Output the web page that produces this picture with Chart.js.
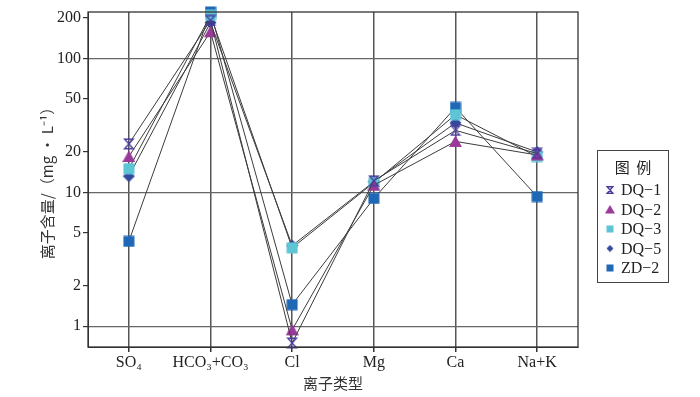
<!DOCTYPE html>
<html lang="zh">
<head>
<meta charset="UTF-8" />
<title>离子含量</title>
<script src="https://cdn.jsdelivr.net/npm/chart.js"></script>
<style>
  html, body { margin: 0; padding: 0; background: #fff; }
</style>
</head>
<body>
<canvas id="grafica" width="700" height="397"></canvas>
<script>
// datos (mg/L, escala log)
const categorias = ["SO₄", "HCO₃+CO₃", "Cl", "Mg", "Ca", "Na+K"];
const muestras = ["DQ−1", "DQ−2", "DQ−3", "DQ−5", "ZD−2"];
const dq1 = [23, 192, 0.75, 12.2, 29, 19.5];
const dq2 = [18.5, 158, 0.94, 11.3, 24, 19];
const dq3 = [15, 210, 3.85, 11.8, 38, 18.5];
const dq5 = [13.2, 185, 4.0, 12, 33, 20];
const zd2 = [4.3, 222, 1.45, 9.0, 43, 9.3];
const ticksY = [1, 2, 5, 10, 20, 50, 100, 200];
const lineasY = [1, 10, 100];

const colores = ["#4a3c9e", "#9a3a98", "#5ec5d6", "#34489c", "#1f68b6"];

// marcadores como pequeños canvas
function marcador(tipo, color, s) {
    const c = document.createElement("canvas");
    c.width = s; c.height = s;
    const g = c.getContext("2d");
    const m = s / 2;
    g.fillStyle = color;
    g.strokeStyle = color;
    if (tipo === "reloj") {
        g.lineWidth = 1.4;
        const w = s * 0.36, h = s * 0.4;
        g.beginPath();
        g.moveTo(m - w, m - h); g.lineTo(m + w, m - h);
        g.lineTo(m - w, m + h); g.lineTo(m + w, m + h);
        g.closePath();
        g.stroke();
    } else if (tipo === "triangulo") {
        g.beginPath();
        g.moveTo(m, 0.5); g.lineTo(s, s - 1); g.lineTo(0, s - 1);
        g.closePath(); g.fill();
    } else if (tipo === "rombo") {
        g.beginPath();
        g.moveTo(m, 0.5); g.lineTo(s - 0.5, m); g.lineTo(m, s - 0.5); g.lineTo(0.5, m);
        g.closePath(); g.fill();
    } else {
        g.fillRect(0.5, 0.5, s - 1, s - 1);
    }
    return c;
}
const tipos = ["reloj", "triangulo", "cuadrado", "rombo", "cuadrado"];
const tamanos = [12, 13, 12, 13, 12];
const marcas = tipos.map((t, i) => marcador(t, colores[i], tamanos[i]));
const marcasLeyenda = tipos.map((t, i) => marcador(t, colores[i], i === 1 ? 10 : 8));

const series = [dq1, dq2, dq3, dq5, zd2];

const bordePlugin = {
    id: "borde",
    afterDraw(chart) {
        const { ctx, chartArea: a } = chart;
        ctx.save();
        ctx.strokeStyle = "#333";
        ctx.lineWidth = 1.3;
        ctx.strokeRect(a.left, a.top, a.right - a.left, a.bottom - a.top);
        // leyenda
        ctx.lineWidth = 1;
        ctx.strokeStyle = "#444";
        ctx.strokeRect(597.5, 150.5, 71, 132);
        ctx.fillStyle = "#222";
        ctx.textAlign = "center";
        ctx.textBaseline = "middle";
        ctx.font = "15px 'Noto Sans CJK SC'";
        ctx.fillText("图  例", 633, 167);
        ctx.textAlign = "left";
        ctx.font = "16px 'Liberation Serif'";
        muestras.forEach((n, i) => {
            const y = 190 + i * 19.5;
            const im = marcasLeyenda[i];
            ctx.drawImage(im, 610 - im.width / 2, y - im.height / 2);
            ctx.fillText(n, 621, y + 1);
        });
        ctx.restore();
    }
};

new Chart(document.getElementById("grafica"), {
    type: "line",
    data: {
        labels: categorias,
        datasets: series.map((d, i) => ({
            label: muestras[i],
            data: d,
            borderColor: "#3c3c3c",
            borderWidth: 1,
            pointStyle: marcas[i],
            pointRadius: 6,
            clip: false,
            tension: 0
        }))
    },
    options: {
        responsive: false,
        animation: false,
        layout: { padding: { left: 0, right: 122, top: 12, bottom: 0 } },
        plugins: {
            legend: { display: false },
            tooltip: { enabled: false }
        },
        scales: {
            x: {
                offset: true,
                grid: { offset: false, color: "#555", lineWidth: 1.5, tickLength: 5, tickColor: "#333" },
                border: { color: "#333" },
                ticks: {
                    color: "#222", padding: 1, maxRotation: 0, minRotation: 0, autoSkip: false,
                    font: { family: "'Liberation Serif'", size: 16 }
                },
                title: {
                    display: true, text: "离子类型", color: "#333",
                    font: { family: "'Noto Sans CJK SC'", size: 15 },
                    padding: { top: 0, bottom: 5 }
                },
                afterFit(s) { s.height = 50; }
            },
            y: {
                type: "logarithmic",
                min: 0.74,
                max: 222,
                afterBuildTicks(s) { s.ticks = ticksY.map(v => ({ value: v })); },
                grid: {
                    color: c => lineasY.includes(c.tick && c.tick.value) ? "#666" : "rgba(0,0,0,0)",
                    lineWidth: 1.2, tickLength: 5, tickColor: "#333"
                },
                border: { color: "#333" },
                ticks: {
                    color: "#222", padding: 2,
                    font: { family: "'Liberation Serif'", size: 16 },
                    callback: v => String(v)
                },
                title: {
                    display: true, text: "离子含量/（mg · L⁻¹）", color: "#333",
                    font: { family: "'Noto Sans CJK SC'", size: 15 },
                    padding: { top: 38, bottom: 0 }
                },
                afterFit(s) { s.width = 88; }
            }
        }
    },
    plugins: [bordePlugin]
});
</script>
</body>
</html>
